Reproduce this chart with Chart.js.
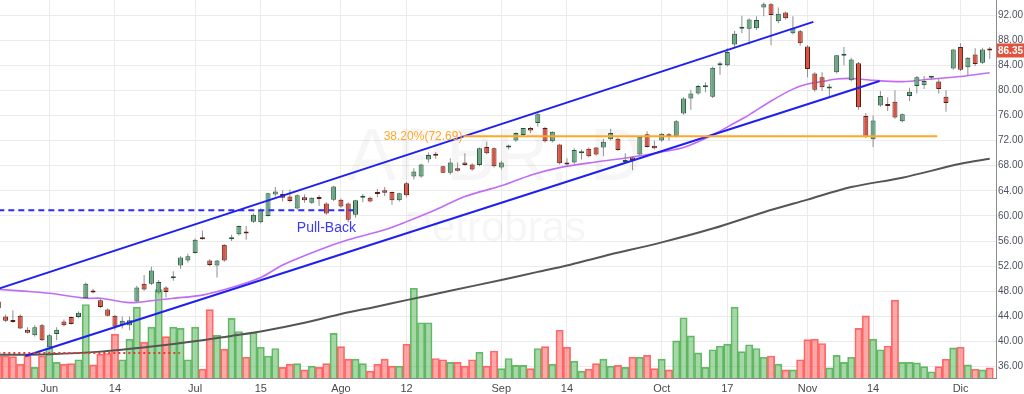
<!DOCTYPE html>
<html>
<head>
<meta charset="utf-8">
<script src="https://cdn.jsdelivr.net/npm/chart.js@4"></script>
<style>
  html, body { margin: 0; padding: 0; background: #fff; overflow: hidden; }
  #chart { display: block; }
</style>
</head>
<body>
<canvas id="chart" width="1024" height="394"></canvas>
<script>
// daily candles, one entry per session (index 0 = late May)
const opens = [
  46.4, 44.0, 43.3, 44.1, 41.9, 41.0, 42.6, 39.1, 41.2, 43.2, 43.9, 43.9, 46.9, 48.1, 46.6, 45.1, 44.1, 42.6, 42.6, 46.4,
  49.2, 49.2, 47.8, 48.6, 50.1, 52.1, 52.9, 54.1, 56.6, 52.9, 52.1, 55.4, 56.3, 57.1, 57.5, 59.1, 59.0, 60.0, 63.4, 63.5,
  63.1, 61.2, 63.0, 62.1, 62.9, 62.0, 62.6, 62.6, 62.0, 60.2, 62.9, 62.9, 63.8, 64.1, 63.8, 62.5, 65.2, 66.3, 66.3, 69.0,
  69.7, 67.9, 66.9, 67.6, 68.5, 68.2, 68.1, 71.0, 70.8, 67.7, 70.9, 72.0, 72.9, 74.0, 74.8, 74.0, 71.9, 71.4, 68.5, 68.5,
  70.0, 70.7, 70.9, 70.9, 72.2, 72.3, 68.6, 69.3, 69.8, 73.0, 71.2, 72.0, 73.0, 72.7, 76.3, 78.7, 79.5, 80.5, 79.0, 84.0,
  84.0, 87.3, 89.8, 89.8, 89.9, 93.2, 93.7, 91.0, 92.4, 89.1, 89.4, 87.0, 82.7, 82.1, 80.3, 82.9, 85.5, 81.6, 84.3, 75.9,
  72.2, 77.6, 77.8, 78.2, 75.1, 79.1, 80.7, 80.8, 82.0, 81.4, 79.0, 83.5, 86.9, 83.7, 85.7, 84.4, 86.6
];
const highs = [
  46.8, 44.3, 45.0, 44.3, 42.3, 42.6, 42.8, 41.2, 42.3, 43.5, 44.0, 44.8, 49.4, 48.4, 46.9, 45.3, 44.2, 44.0, 44.0, 48.9,
  50.6, 51.9, 49.8, 48.8, 51.2, 53.6, 54.0, 56.4, 57.7, 53.1, 53.0, 55.5, 57.0, 58.5, 58.4, 60.4, 61.2, 63.7, 64.6, 64.1,
  64.2, 63.4, 63.4, 63.0, 63.3, 62.2, 64.8, 62.8, 62.2, 62.6, 63.5, 63.1, 64.3, 64.6, 63.9, 63.7, 65.4, 67.6, 68.3, 70.1,
  70.2, 68.0, 69.2, 68.5, 70.0, 68.4, 70.9, 71.8, 70.9, 68.8, 71.4, 73.3, 74.0, 74.2, 76.6, 74.2, 73.5, 71.5, 69.2, 70.8,
  70.6, 70.9, 71.0, 72.3, 73.9, 72.5, 70.0, 69.5, 72.7, 73.5, 72.0, 73.2, 73.2, 75.3, 78.9, 80.1, 80.9, 81.3, 83.8, 84.6,
  86.7, 89.5, 91.9, 91.5, 91.8, 94.0, 93.9, 93.2, 92.5, 91.8, 89.6, 87.2, 82.9, 82.9, 81.0, 85.6, 86.9, 85.2, 84.5, 76.4,
  76.0, 79.9, 78.9, 80.0, 76.3, 80.4, 82.3, 82.3, 82.3, 81.8, 80.0, 86.6, 87.5, 85.3, 86.7, 86.8, 86.9
];
const lows = [
  45.0, 43.1, 43.0, 42.0, 41.3, 40.8, 40.1, 38.7, 40.2, 42.4, 42.7, 43.7, 46.8, 47.7, 45.3, 44.0, 41.9, 42.1, 41.8, 46.3,
  48.1, 49.0, 47.5, 47.0, 49.7, 51.6, 52.6, 54.0, 56.2, 52.0, 50.2, 52.7, 56.0, 56.9, 56.2, 58.9, 58.8, 59.9, 63.1, 62.3,
  62.2, 61.0, 62.1, 61.9, 61.6, 60.2, 62.4, 61.3, 59.0, 59.7, 62.2, 62.2, 63.0, 63.2, 61.8, 62.3, 63.0, 65.8, 66.1, 68.5,
  69.1, 66.8, 66.6, 67.1, 68.0, 67.2, 67.9, 69.8, 67.7, 67.4, 70.6, 71.8, 72.7, 73.2, 74.2, 71.7, 71.7, 68.2, 67.9, 68.3,
  69.0, 69.3, 69.6, 69.5, 72.0, 70.4, 68.3, 67.3, 69.6, 70.9, 70.6, 71.8, 72.0, 72.5, 76.1, 76.9, 79.3, 79.7, 78.8, 82.5,
  83.8, 86.9, 89.1, 87.3, 89.6, 91.8, 87.2, 90.7, 91.3, 88.9, 87.1, 82.1, 79.8, 79.9, 79.1, 82.7, 84.0, 81.4, 76.9, 72.4,
  71.0, 77.4, 76.7, 75.5, 74.9, 78.3, 79.5, 80.2, 81.6, 79.5, 76.6, 83.3, 83.1, 82.4, 83.9, 84.2, 85.0
];
const closes = [
  45.3, 43.3, 43.1, 42.1, 41.4, 42.3, 40.2, 41.0, 41.9, 42.6, 42.8, 44.6, 49.2, 47.8, 45.5, 44.1, 42.4, 43.3, 43.4, 48.6,
  48.3, 51.3, 49.5, 47.9, 50.2, 53.4, 53.6, 56.2, 56.3, 52.2, 52.9, 52.9, 56.5, 58.4, 57.2, 60.2, 61.0, 63.6, 63.9, 62.9,
  62.4, 63.3, 62.5, 62.9, 62.7, 60.4, 64.7, 61.5, 59.4, 62.5, 63.0, 62.3, 63.5, 63.7, 62.5, 63.6, 63.3, 67.1, 68.2, 69.7,
  69.6, 66.9, 68.5, 67.2, 68.1, 67.4, 70.8, 70.0, 67.9, 68.5, 71.0, 73.2, 74.0, 73.6, 76.2, 71.9, 73.4, 68.4, 68.2, 70.5,
  70.1, 69.5, 69.8, 71.8, 73.2, 70.5, 68.8, 68.9, 72.6, 71.0, 70.8, 73.1, 72.7, 75.1, 78.7, 79.5, 80.7, 80.6, 83.6, 84.1,
  86.1, 89.0, 89.9, 91.3, 91.2, 93.7, 92.0, 92.2, 91.5, 89.9, 87.5, 83.4, 80.1, 80.5, 80.4, 85.6, 85.6, 84.9, 77.3, 72.6,
  75.2, 79.1, 77.5, 75.7, 76.2, 79.8, 82.1, 81.5, 82.1, 80.2, 78.0, 86.5, 83.3, 85.2, 84.2, 86.5, 86.35
];
const volumes = [
  3.5, 3.5, 3.4, 2.2, 3.5, 1.7, 3.5, 4.8, 2.5, 2.2, 2.3, 2.9, 11.7, 2.1, 3.8, 3.9, 7.0, 2.9, 6.2, 11.3,
  5.7, 8.1, 14.1, 6.6, 8.1, 7.9, 2.9, 8.1, 1.4, 10.9, 6.8, 4.6, 9.5, 7.4, 3.3, 7.2, 4.9, 3.5, 4.7, 1.7,
  2.2, 2.3, 1.3, 1.9, 1.7, 2.3, 7.1, 5.0, 3.0, 3.0, 2.3, 1.1, 2.2, 3.0, 1.9, 1.9, 5.4, 14.3, 8.8, 8.8,
  3.1, 2.9, 2.5, 2.5, 1.9, 2.9, 4.1, 1.9, 4.3, 1.5, 3.1, 2.0, 2.0, 1.5, 4.7, 5.0, 2.2, 7.6, 4.9, 2.7,
  1.1, 1.4, 2.3, 3.0, 1.9, 2.0, 1.7, 3.3, 3.3, 3.6, 1.5, 3.0, 1.3, 5.9, 9.6, 6.7, 4.0, 1.7, 4.5, 5.1,
  5.4, 11.3, 4.2, 5.3, 4.7, 3.3, 3.5, 2.2, 1.3, 1.3, 2.9, 6.1, 6.2, 5.5, 1.6, 3.6, 2.5, 3.3, 7.9, 9.9,
  6.2, 4.5, 5.1, 12.4, 2.5, 2.5, 2.4, 1.8, 1.0, 1.8, 3.0, 4.8, 4.9, 2.1, 1.4, 1.3, 1.6
];

// x axis labels (session index -> text)
const tickIdx = [7, 16, 27, 36, 47, 56, 69, 78, 91, 100, 111, 120, 132];
const tickText = ['Jun', '14', 'Jul', '15', 'Ago', '12', 'Sep', '14', 'Oct', '17', 'Nov', '14', 'Dic'];
const priceTicks = [36, 40, 44, 48, 52, 56, 60, 64, 68, 72, 76, 80, 84, 88, 92];

// moving averages
const maFastIdx = [0, 4, 7, 12, 14, 18, 21, 24, 28, 32, 36, 39, 44, 48, 53, 56, 60, 64, 69, 73, 77, 82, 87, 91, 94, 98, 101, 103, 106, 109, 111, 113, 115, 117, 120, 124, 128, 132, 136];
const maFastVal = [48.3, 48.0, 47.7, 46.9, 46.9, 46.2, 46.5, 46.9, 47.4, 48.6, 50.2, 52.2, 54.6, 56.2, 57.8, 59.1, 61.0, 63.1, 64.8, 66.5, 67.7, 68.6, 69.4, 70.2, 70.9, 72.9, 74.8, 76.1, 78.3, 80.2, 81.0, 81.4, 81.8, 81.9, 81.6, 81.4, 81.8, 82.2, 82.8];
const maSlowIdx = [0, 7, 14, 21, 28, 32, 36, 42, 47, 52, 56, 62, 69, 74, 78, 83, 91, 98, 105, 111, 117, 124, 132, 136];
const maSlowVal = [37.9, 38.0, 38.4, 39.2, 40.2, 40.9, 41.6, 43.0, 44.4, 45.6, 46.6, 48.1, 49.8, 51.1, 52.1, 53.6, 55.8, 58.0, 60.6, 62.6, 64.6, 66.1, 68.3, 69.1];

// drawn objects: endpoints as [session index, price]
const channelTop = [[0, 48.4], [111.8, 90.9]];
const channelLow = [[3.7, 37.7], [120.9, 81.5]];
const pullBack = [[0, 60.9], [48.7, 60.9]];
const fibLevel = [[63.8, 72.69], [128.8, 72.69]];
const supportLine = [[0, 38.2], [24.9, 38.2]];

const upBody = '#6ba583', upBorder = '#225437';
const downBody = '#d75442', downBorder = '#5b1a13';

const idx = opens.map((_, i) => i);
const isUp = idx.map(i => closes[i] >= opens[i]);
const pts = (arr) => arr.map(([x, y]) => ({ x, y }));

const lineDs = (label, data, color, width, extra) => Object.assign({
  type: 'line', label, data, borderColor: color, borderWidth: width,
  pointRadius: 0, fill: false, yAxisID: 'y', order: 1
}, extra || {});

// no extra room for edge labels: plot runs to the canvas edges like the original
const noPad = (s) => { s.paddingTop = 0; s.paddingBottom = 0; s.paddingLeft = 0; s.paddingRight = 0; };

const overlay = {
  id: 'overlay',
  beforeDatasetsDraw(chart) {
    const { ctx, chartArea: a } = chart;
    ctx.save();
    ctx.fillStyle = 'rgba(0,0,0,0.035)';
    ctx.textAlign = 'center';
    ctx.textBaseline = 'alphabetic';
    ctx.font = '74px "Liberation Sans", Arial, sans-serif';
    ctx.fillText('APBR, D', a.left + a.width * 0.497, a.top + a.height * 0.476);
    ctx.font = '42px "Liberation Sans", Arial, sans-serif';
    ctx.fillText('Petrobras', a.left + a.width * 0.497, a.top + a.height * 0.638);
    ctx.restore();
  },
  afterDatasetsDraw(chart) {
    const { ctx, scales: { x, y } } = chart;
    ctx.save();
    ctx.textBaseline = 'middle';
    ctx.font = '14px "Liberation Sans", Arial, sans-serif';
    ctx.fillStyle = '#3b3bf5';
    ctx.textAlign = 'center';
    ctx.fillText('Pull-Back', x.getPixelForValue(45), y.getPixelForValue(58.1));
    ctx.font = '12px "Liberation Sans", Arial, sans-serif';
    ctx.fillStyle = '#ffa726';
    ctx.textAlign = 'right';
    ctx.fillText('38.20%(72.69)', x.getPixelForValue(fibLevel[0][0]) - 1, y.getPixelForValue(fibLevel[0][1]));
    ctx.restore();
  },
  afterDraw(chart) {
    const { ctx, chartArea: a, scales: { y } } = chart;
    const last = closes[closes.length - 1];
    const py = y.getPixelForValue(last);
    ctx.save();
    ctx.fillStyle = '#e0533f';
    ctx.fillRect(a.right + 1, py - 7, chart.width - a.right - 1, 14);
    ctx.fillStyle = '#fff';
    ctx.font = 'bold 10px "Liberation Sans", Arial, sans-serif';
    ctx.textAlign = 'center';
    ctx.textBaseline = 'middle';
    ctx.fillText(last.toFixed(2), (a.right + 1 + chart.width) / 2, py + 0.5);
    ctx.restore();
  }
};

new Chart(document.getElementById('chart'), {
  type: 'bar',
  data: {
    datasets: [
      {
        label: 'Volume',
        data: idx.map(i => ({ x: i, y: volumes[i] })),
        yAxisID: 'vol',
        grouped: false,
        barPercentage: 1,
        categoryPercentage: 1,
        backgroundColor: idx.map(i => isUp[i] ? 'rgba(76,175,80,0.5)' : 'rgba(255,82,82,0.5)'),
        borderColor: idx.map(i => isUp[i] ? 'rgba(76,175,80,0.85)' : 'rgba(255,82,82,0.85)'),
        borderWidth: 1,
        order: 10
      },
      lineDs('MA lenta', maSlowIdx.map((v, k) => ({ x: v, y: maSlowVal[k] })), '#555555', 2, { tension: 0.3, order: 8 }),
      lineDs('MA rápida', maFastIdx.map((v, k) => ({ x: v, y: maFastVal[k] })), '#c06cf5', 1.6, { tension: 0.3, order: 7 }),
      {
        label: 'Wick',
        data: idx.map(i => ({ x: i, y: [lows[i], highs[i]] })),
        yAxisID: 'y',
        grouped: false,
        maxBarThickness: 1,
        backgroundColor: '#8f8f91',
        borderWidth: 0,
        order: 5
      },
      {
        label: 'Body',
        data: idx.map(i => ({ x: i, y: [opens[i], closes[i]] })),
        yAxisID: 'y',
        grouped: false,
        maxBarThickness: 5,
        minBarLength: 2,
        backgroundColor: idx.map(i => isUp[i] ? upBody : downBody),
        borderColor: idx.map(i => isUp[i] ? upBorder : downBorder),
        borderWidth: 1,
        borderSkipped: false,
        order: 4
      },
      lineDs('Soporte', pts(supportLine), '#e53935', 2, { borderDash: [2, 3] }),
      lineDs('Fibo', pts(fibLevel), '#ffa726', 2),
      lineDs('Pull-Back', pts(pullBack), '#2b2bff', 2, { borderDash: [6, 4] }),
      lineDs('Canal sup', pts(channelTop), '#1f1ff2', 2),
      lineDs('Canal inf', pts(channelLow), '#1f1ff2', 2)
    ]
  },
  options: {
    responsive: false,
    animation: false,
    devicePixelRatio: 1,
    layout: { padding: 0 },
    plugins: { legend: { display: false }, tooltip: { enabled: false } },
    scales: {
      x: {
        type: 'linear',
        min: 0.23,
        max: 136.86,
        offset: false,
        grid: { color: '#ebebeb', drawTicks: false, offset: false },
        border: { display: true, color: '#8a8a8a' },
        afterBuildTicks: (s) => { s.ticks = tickIdx.map(v => ({ value: v })); },
        afterFit: (s) => { s.height = 16; noPad(s); },
        ticks: {
          autoSkip: false,
          maxRotation: 0,
          padding: 4,
          color: '#4a4a4a',
          font: { size: 11, family: '"Liberation Sans", Arial, sans-serif' },
          callback: (v, k) => tickText[k]
        }
      },
      y: {
        position: 'right',
        min: 34.2,
        max: 94.39,
        grid: { color: '#ebebeb', drawTicks: false },
        border: { display: true, color: '#8a8a8a' },
        afterBuildTicks: (s) => { s.ticks = priceTicks.map(v => ({ value: v })); },
        afterFit: (s) => { s.width = 28; noPad(s); },
        ticks: {
          padding: 2,
          color: '#4c525e',
          font: { size: 10, family: '"Liberation Sans", Arial, sans-serif' },
          callback: (v) => v.toFixed(2)
        }
      },
      vol: {
        display: false,
        min: 0,
        max: 60.2
      }
    }
  },
  plugins: [overlay]
});
</script>
</body>
</html>
